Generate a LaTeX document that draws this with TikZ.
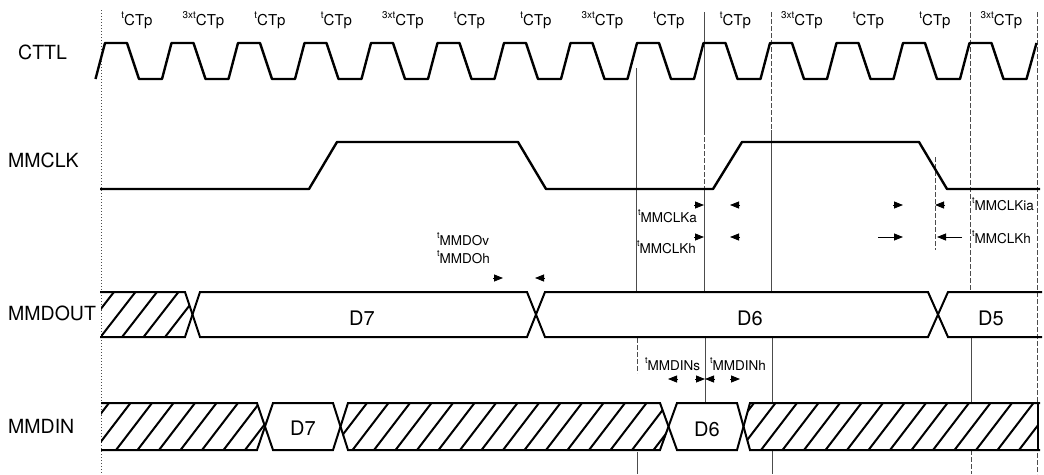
\documentclass[tikz,border=0pt]{standalone}
\usepackage{fontspec}
\setmainfont{TeX Gyre Heros}
\usetikzlibrary{arrows.meta}
\newcommand{\supx}[1]{\raisebox{0.45em}{\scalebox{0.66}{#1}}}
\begin{document}
\begin{tikzpicture}[x=1pt,y=-1pt,
  sig/.style={line width=2.4pt, line join=round},
  bus/.style={line width=2pt, line join=miter},
  guide/.style={line width=0.6pt, black!70},
  gdash/.style={guide, dash pattern=on 5pt off 2pt},
  gdot/.style={guide, dash pattern=on 1pt off 2pt},
  hatchline/.style={line width=2pt},
  rowlab/.style={font=\fontsize{19.5}{22}\selectfont, anchor=base west, inner sep=0},
  cttlab/.style={font=\fontsize{15}{17}\selectfont, anchor=base, inner sep=0},
  tlab/.style={font=\fontsize{13.5}{15}\selectfont, anchor=base west, inner sep=0},
  dlab/.style={font=\fontsize{20}{22}\selectfont, anchor=base, inner sep=0},
  ah/.style={-{Triangle[length=9pt,width=7pt]}, line width=0.8pt}]
\useasboundingbox (0,0) rectangle (1044,474);
\fill[white] (0,0) rectangle (1044,474);

% guide lines
\draw[gdot] (101,10) -- (101,474);
\draw[guide] (636,68) -- (636,292);
\draw[gdash] (637,338) -- (637,373);
\draw[guide] (637,452) -- (637,474);
\draw[guide] (704,12) -- (704,130);
\draw[gdash] (704,130) -- (704,189);
\draw[guide] (704,189) -- (704,292);
\draw[guide] (705,338) -- (705,403);
\draw[gdash] (771,12) -- (771,130);
\draw[guide] (771,130) -- (771,292);
\draw[guide] (772,338) -- (772,403);
\draw[guide] (772,450) -- (772,474);
\draw[gdash] (935,157) -- (935,250);
\draw[gdash] (970,12) -- (970,292);
\draw[guide] (971,338) -- (971,403);
\draw[gdash] (971,450) -- (971,474);
\draw[gdash] (1037,12) -- (1037,474);

% row labels
\node[rowlab] (lcttl) at (18,59) {CTTL};
\node[rowlab] (lclk) at (8,167) {MMCLK};
\node[rowlab] (ldout) at (8,320) {MMDOUT};
\node[rowlab] (ldin) at (8,433) {MMDIN};

% CTTL period labels
\node[cttlab] (p0) at (137,25) {\supx{t}CTp};
\node[cttlab] (p1) at (203.5,25) {\supx{3xt}CTp};
\node[cttlab] (p2) at (270,25) {\supx{t}CTp};
\node[cttlab] (p3) at (336.5,25) {\supx{t}CTp};
\node[cttlab] (p4) at (403,25) {\supx{3xt}CTp};
\node[cttlab] (p5) at (469.5,25) {\supx{t}CTp};
\node[cttlab] (p6) at (536,25) {\supx{t}CTp};
\node[cttlab] (p7) at (602.5,25) {\supx{3xt}CTp};
\node[cttlab] (p8) at (669,25) {\supx{t}CTp};
\node[cttlab] (p9) at (735.5,25) {\supx{t}CTp};
\node[cttlab] (p10) at (802,25) {\supx{3xt}CTp};
\node[cttlab] (p11) at (868.5,25) {\supx{t}CTp};
\node[cttlab] (p12) at (935,25) {\supx{t}CTp};
\node[cttlab] (p13) at (1001.5,25) {\supx{3xt}CTp};

% CTTL waveform
\draw[sig] (95.5,79) \foreach \k in {0,...,13} { -- ({105+66.5*\k},43) -- ({127+66.5*\k},43) -- ({139+66.5*\k},79) -- ({162+66.5*\k},79) } -- (1036.5,43);

% MMCLK waveform
\draw[sig] (100,189) -- (309,189) -- (337,142) -- (518,142) -- (546,189) -- (713,189) -- (742,142) -- (919,142) -- (947,189) -- (1040,189);

% MMDOUT hatch
\begin{scope}
\clip (101,292) -- (185,292) -- (192.5,314.5) -- (185,337) -- (101,337) -- cycle;
\foreach \i in {0,...,8} \draw[hatchline] ({56+21.5*\i},339) -- ++(38,-49);
\end{scope}
% MMDOUT bus
\draw[bus] (100,292) -- (185,292) -- (200,337) -- (527,337) -- (545,292) -- (928,292) -- (948,337) -- (1042,337);
\draw[bus] (100,337) -- (185,337) -- (200,292) -- (527,292) -- (545,337) -- (928,337) -- (948,292) -- (1042,292);
\node[dlab] (dout7) at (362,325) {D7};
\node[dlab] (dout6) at (750,325) {D6};
\node[dlab] (dout5) at (991,325) {D5};

% MMDIN hatch
\begin{scope}
\clip (101,403) -- (257,403) -- (265,426.5) -- (257,450) -- (101,450) -- cycle
      (348,403) -- (660,403) -- (668.5,426.5) -- (660,450) -- (348,450) -- (340.5,426.5) -- cycle
      (750,403) -- (1038,403) -- (1038,450) -- (750,450) -- (743.5,426.5) -- cycle;
\foreach \i in {0,...,48} \draw[hatchline] ({50+21.5*\i},452) -- ++(39,-51);
\end{scope}
% MMDIN bus
\draw[bus] (101,403) -- (257,403) -- (273,450) -- (333,450) -- (348,403) -- (660,403) -- (677,450) -- (737,450) -- (750,403) -- (1040,403);
\draw[bus] (101,450) -- (257,450) -- (273,403) -- (333,403) -- (348,450) -- (660,450) -- (677,403) -- (737,403) -- (750,450) -- (1040,450);
\draw[bus] (1038,403) -- (1038,450);
\node[dlab] (din7) at (303,435) {D7};
\node[dlab] (din6) at (707,436) {D6};

% timing labels
\node[tlab] (tka) at (638,222) {\supx{t}MMCLKa};
\node[tlab] (tkh) at (637,253) {\supx{t}MMCLKh};
\node[tlab] (tkia) at (972,210) {\supx{t}MMCLKia};
\node[tlab] (tkh2) at (972,243) {\supx{t}MMCLKh};
\node[tlab] (tdov) at (437,245) {\supx{t}MMDOv};
\node[tlab] (tdoh) at (437,263) {\supx{t}MMDOh};
\node[tlab] (tdins) at (645,370) {\supx{t}MMDINs};
\node[tlab] (tdinh) at (710,370) {\supx{t}MMDINh};

% timing arrows
\coordinate (a1) at (704,205);
\coordinate (a2) at (730,205);
\coordinate (a3) at (903,205);
\coordinate (a4) at (935,205);
\coordinate (b1) at (704,237);
\coordinate (b2) at (730,237);
\coordinate (b3) at (903,237);
\coordinate (b3s) at (878,237);
\coordinate (b4) at (937,237);
\coordinate (b4s) at (962,237);
\coordinate (c1) at (503,278);
\coordinate (c2) at (535,278);
\coordinate (d1) at (668,379);
\coordinate (d2) at (705,379);
\coordinate (d3) at (740,379);
\draw[ah] ([xshift=-10pt]a1) -- (a1);
\draw[ah] ([xshift=10pt]a2) -- (a2);
\draw[ah] ([xshift=-10pt]a3) -- (a3);
\draw[ah] ([xshift=10pt]a4) -- (a4);
\draw[ah] ([xshift=-10pt]b1) -- (b1);
\draw[ah] ([xshift=10pt]b2) -- (b2);
\draw[ah] (b3s) -- (b3);
\draw[ah] (b4s) -- (b4);
\draw[ah] ([xshift=-10pt]c1) -- (c1);
\draw[ah] ([xshift=10pt]c2) -- (c2);
\draw[ah] ([xshift=10pt]d1) -- (d1);
\draw[ah] ([xshift=-10pt]d2) -- (d2);
\draw[ah] ([xshift=10pt]d2) -- (d2);
\draw[ah] ([xshift=-10pt]d3) -- (d3);
\end{tikzpicture}
\end{document}
